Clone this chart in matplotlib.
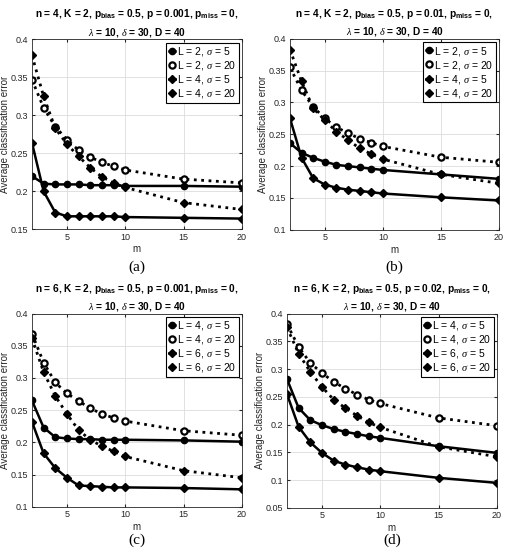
import numpy as np
import matplotlib
matplotlib.use("Agg")
import matplotlib.pyplot as plt

plt.rcParams['font.family'] = ['Liberation Sans', 'DejaVu Sans']
plt.rcParams['mathtext.fontset'] = 'custom'
plt.rcParams['mathtext.rm'] = 'Liberation Sans'
plt.rcParams['mathtext.bf'] = 'Liberation Sans:bold'
plt.rcParams['mathtext.it'] = 'Liberation Serif:italic'

m = [2, 3, 4, 5, 6, 7, 8, 9, 10, 15, 20]

# (a) n = 4, p = 0.001
a_l2_s5 = [0.220, 0.210, 0.209, 0.209, 0.209, 0.208, 0.208, 0.208, 0.207, 0.207, 0.206]
a_l2_s20 = [0.347, 0.310, 0.285, 0.268, 0.254, 0.245, 0.238, 0.233, 0.228, 0.216, 0.211]
a_l4_s5 = [0.264, 0.200, 0.172, 0.167, 0.167, 0.167, 0.167, 0.167, 0.166, 0.165, 0.164]
a_l4_s20 = [0.379, 0.325, 0.283, 0.262, 0.246, 0.231, 0.219, 0.211, 0.205, 0.185, 0.176]

# (b) n = 4, p = 0.01
b_l2_s5 = [0.236, 0.221, 0.213, 0.207, 0.202, 0.200, 0.198, 0.196, 0.194, 0.187, 0.180]
b_l2_s20 = [0.355, 0.319, 0.293, 0.275, 0.261, 0.252, 0.243, 0.237, 0.231, 0.214, 0.206]
b_l4_s5 = [0.275, 0.213, 0.181, 0.171, 0.166, 0.163, 0.161, 0.159, 0.157, 0.151, 0.146]
b_l4_s20 = [0.383, 0.333, 0.291, 0.272, 0.254, 0.241, 0.228, 0.219, 0.211, 0.187, 0.173]

# (c) n = 6, p = 0.001
c_l4_s5 = [0.265, 0.223, 0.208, 0.206, 0.205, 0.205, 0.204, 0.204, 0.204, 0.203, 0.201]
c_l4_s20 = [0.369, 0.324, 0.293, 0.276, 0.264, 0.253, 0.244, 0.238, 0.233, 0.218, 0.211]
c_l6_s5 = [0.232, 0.183, 0.160, 0.145, 0.133, 0.132, 0.131, 0.130, 0.130, 0.129, 0.127]
c_l6_s20 = [0.362, 0.309, 0.272, 0.244, 0.219, 0.204, 0.194, 0.186, 0.178, 0.156, 0.145]

# (d) n = 6, p = 0.02
d_l4_s5 = [0.282, 0.230, 0.208, 0.199, 0.192, 0.187, 0.183, 0.179, 0.176, 0.161, 0.149]
d_l4_s20 = [0.381, 0.340, 0.311, 0.293, 0.277, 0.265, 0.254, 0.245, 0.238, 0.212, 0.198]
d_l6_s5 = [0.255, 0.196, 0.168, 0.149, 0.135, 0.128, 0.123, 0.119, 0.116, 0.104, 0.095]
d_l6_s20 = [0.375, 0.328, 0.295, 0.268, 0.245, 0.230, 0.216, 0.204, 0.195, 0.160, 0.142]

titles = [
    "n = 4, K = 2, p$_{\\mathbf{bias}}$ = 0.5, p = 0.001, p$_{\\mathbf{miss}}$ = 0,\n$\\lambda$ = 10, $\\delta$ = 30, D = 40",
    "n = 4, K = 2, p$_{\\mathbf{bias}}$ = 0.5, p = 0.01, p$_{\\mathbf{miss}}$ = 0,\n$\\lambda$ = 10, $\\delta$ = 30, D = 40",
    "n = 6, K = 2, p$_{\\mathbf{bias}}$ = 0.5, p = 0.001, p$_{\\mathbf{miss}}$ = 0,\n$\\lambda$ = 10, $\\delta$ = 30, D = 40",
    "n = 6, K = 2, p$_{\\mathbf{bias}}$ = 0.5, p = 0.02, p$_{\\mathbf{miss}}$ = 0,\n$\\lambda$ = 10, $\\delta$ = 30, D = 40",
]
L_vals = [(2, 4), (2, 4), (4, 6), (4, 6)]
series = [
    (a_l2_s5, a_l2_s20, a_l4_s5, a_l4_s20),
    (b_l2_s5, b_l2_s20, b_l4_s5, b_l4_s20),
    (c_l4_s5, c_l4_s20, c_l6_s5, c_l6_s20),
    (d_l4_s5, d_l4_s20, d_l6_s5, d_l6_s20),
]
ylims = [(0.15, 0.4), (0.1, 0.4), (0.1, 0.4), (0.05, 0.4)]
yticks = [np.arange(0.15, 0.401, 0.05), np.arange(0.1, 0.401, 0.05),
          np.arange(0.1, 0.401, 0.05), np.arange(0.05, 0.401, 0.05)]
captions = ["(a)", "(b)", "(c)", "(d)"]
caption_y = [0.519, 0.519, 0.027, 0.027]

# axes rectangles in figure fraction
rects = [
    [0.063, 0.587, 0.414, 0.342],
    [0.572, 0.586, 0.412, 0.344],
    [0.063, 0.087, 0.414, 0.348],
    [0.566, 0.085, 0.414, 0.350],
]

fig = plt.figure(figsize=(5.07, 5.55), dpi=100)

for i in range(4):
    ax = fig.add_axes(rects[i])
    s5a, s20a, s5b, s20b = series[i]
    la, lb = L_vals[i]
    ax.plot(m, s5a, '-', color='k', lw=1.8, marker='o', ms=4.5,
            label="L = %d, $\\sigma$ = 5" % la)
    ax.plot(m, s20a, ':', color='k', lw=2.0, marker='o', ms=4.5, mfc='white', mew=1.6,
            label="L = %d, $\\sigma$ = 20" % la)
    ax.plot(m, s5b, '-', color='k', lw=1.8, marker='D', ms=4,
            label="L = %d, $\\sigma$ = 5" % lb)
    ax.plot(m, s20b, ':', color='k', lw=2.0, marker='D', ms=4,
            label="L = %d, $\\sigma$ = 20" % lb)
    ax.set_xlim(2, 20)
    ax.set_ylim(*ylims[i])
    ax.set_xticks([5, 10, 15, 20])
    ax.set_yticks(yticks[i])
    ax.set_yticklabels(["%g" % round(v, 2) for v in yticks[i]])
    ax.grid(True, color='#dcdcdc', lw=0.6)
    ax.set_axisbelow(True)
    ax.tick_params(direction='in', labelsize=6.5, colors='#262626', length=2.5,
                   top=True, right=True, pad=2.5)
    for sp in ax.spines.values():
        sp.set_color('#262626')
        sp.set_linewidth(0.6)
    ax.set_xlabel("m", fontsize=7, color='#262626', labelpad=2)
    ax.set_ylabel("Average classification error", fontsize=7, color='#262626', labelpad=1)
    ax.set_title(titles[i], fontsize=7.3, fontweight='bold', pad=3, linespacing=1.45)
    leg = ax.legend(loc='upper right', fontsize=7.5, handlelength=0.6, handletextpad=0.2,
                    borderpad=0.25, labelspacing=0.1, borderaxespad=0.3,
                    fancybox=False, framealpha=1, edgecolor='k')
    leg.get_frame().set_linewidth(0.8)
    fig.text(rects[i][0] + rects[i][2] / 2, caption_y[i], captions[i],
             ha='center', va='center', fontsize=11, family='Liberation Serif')

fig.savefig("out.png", dpi=100)
